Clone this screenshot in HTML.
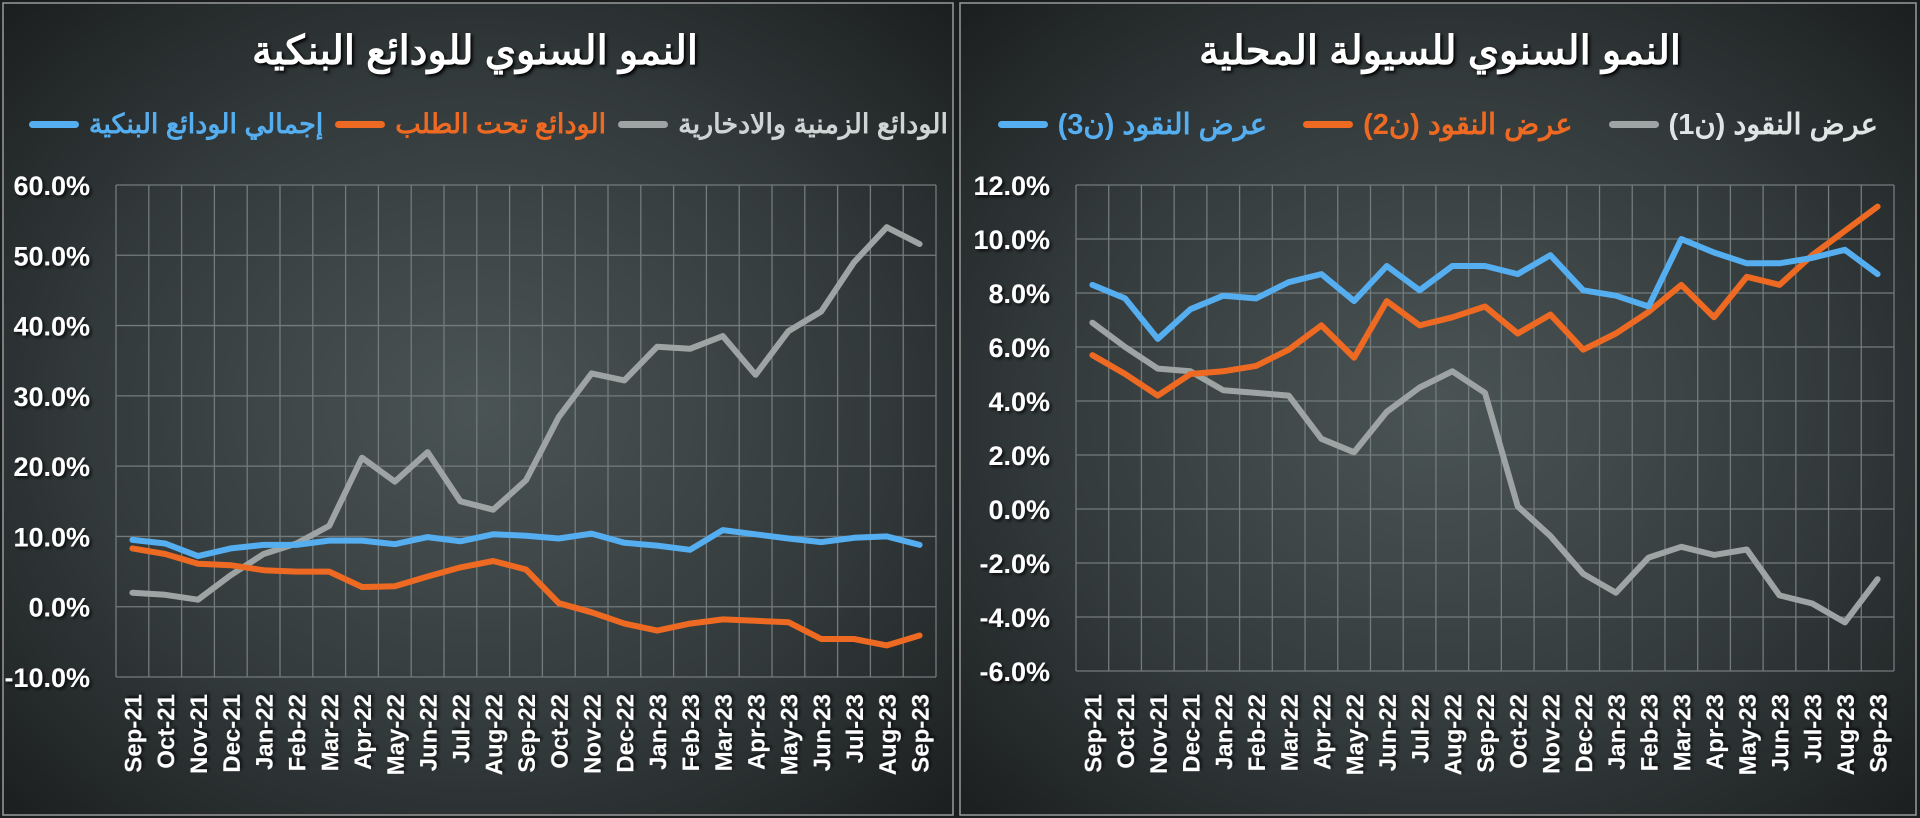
<!DOCTYPE html>
<html><head><meta charset="utf-8"><style>
html,body{margin:0;padding:0;width:1920px;height:818px;overflow:hidden;background:#1b1e1f;position:relative}
svg{display:block;position:absolute;left:0;top:0}
text{font-family:"Liberation Sans","Noto Sans CJK SC",sans-serif;font-weight:bold}
.lg{position:absolute;top:104px;height:40px;display:flex;direction:rtl;align-items:center;font-family:"Liberation Sans","Noto Sans CJK SC",sans-serif;font-weight:bold;font-size:29px;white-space:nowrap}
.it{display:flex;align-items:center;direction:rtl}
.ln{display:inline-block;width:50px;height:7px;border-radius:4px;margin-right:10px}
.tt{position:absolute;top:28px;width:700px;text-align:center;direction:rtl;color:#fff;font-family:"Liberation Sans","Noto Sans CJK SC",sans-serif;font-weight:bold;font-size:40px;text-shadow:2px 2px 3px #000}
</style></head><body>
<svg id="s" width="1920" height="818" xmlns="http://www.w3.org/2000/svg">
<defs>
<radialGradient id="g1" cx="0.5" cy="0.5" r="0.7">
<stop offset="0" stop-color="#4b5455"/><stop offset="0.6" stop-color="#32393a"/><stop offset="1" stop-color="#1c1f20"/></radialGradient>
<filter id="sh"><feDropShadow dx="2" dy="2" stdDeviation="1.5" flood-color="#000" flood-opacity="0.8"/></filter>
</defs>
<rect x="0" y="0" width="1920" height="818" fill="#1b1e1f"/>
<rect x="3" y="3" width="950" height="812" fill="url(#g1)" stroke="#9a9a9a" stroke-width="1.5"/>
<rect x="960" y="3" width="956" height="812" fill="url(#g1)" stroke="#9a9a9a" stroke-width="1.5"/>
<g id="c"></g>
</svg>
<div class="tt" style="left:125px">النمو السنوي للودائع البنكية</div>
<div class="tt" style="left:1090px">النمو السنوي للسيولة المحلية</div>
<div class="lg" style="right:972px;font-size:27px">
 <div class="it" style="color:#d0d4d4"><span>الودائع الزمنية والادخارية</span><span class="ln" style="background:#9ea4a3"></span></div>
 <div class="it" style="color:#ee6a22;margin-right:12px"><span>الودائع تحت الطلب</span><span class="ln" style="background:#ee6a22"></span></div>
 <div class="it" style="color:#55aef0;margin-right:12px"><span>إجمالي الودائع البنكية</span><span class="ln" style="background:#55aef0"></span></div>
</div>
<div class="lg" style="right:42px">
 <div class="it" style="color:#e0e4e4"><span>عرض النقود (ن1)</span><span class="ln" style="background:#9ea4a3"></span></div>
 <div class="it" style="color:#ee6a22;margin-right:36px"><span>عرض النقود (ن2)</span><span class="ln" style="background:#ee6a22"></span></div>
 <div class="it" style="color:#55aef0;margin-right:36px"><span>عرض النقود (ن3)</span><span class="ln" style="background:#55aef0"></span></div>
</div>
<script>
const NS="http://www.w3.org/2000/svg",g=document.getElementById('c');
function el(t,a,txt){const e=document.createElementNS(NS,t);for(const k in a)e.setAttribute(k,a[k]);if(txt!==undefined)e.textContent=txt;g.appendChild(e);return e;}
const months=["Sep-21","Oct-21","Nov-21","Dec-21","Jan-22","Feb-22","Mar-22","Apr-22","May-22","Jun-22","Jul-22","Aug-22","Sep-22","Oct-22","Nov-22","Dec-22","Jan-23","Feb-23","Mar-23","Apr-23","May-23","Jun-23","Jul-23","Aug-23","Sep-23"];
function chart(o){
 const {x0,x1,y0,y1,min,max,step,series}=o;
 const n=25,cw=(x1-x0)/n;
 const Y=v=>y1-(v-min)/(max-min)*(y1-y0);
 for(let i=0;i<=n;i++){const x=x0+i*cw;el('line',{x1:x,y1:y0,x2:x,y2:y1,stroke:'#737b7c','stroke-width':1.3});}
 for(let v=min;v<=max+1e-9;v+=step){const y=Y(v);el('line',{x1:x0,y1:y,x2:x1,y2:y,stroke:'#737b7c','stroke-width':1.3});
  el('text',{x:x0-26,y:y+10,'text-anchor':'end','font-size':27,fill:'#fff',filter:'url(#sh)'},v.toFixed(1)+'%');}
 months.forEach((m,i)=>{const x=x0+cw*(i+0.5)+9;el('text',{transform:`translate(${x},694) rotate(-90)`,'text-anchor':'end','font-size':24,fill:'#fff',filter:'url(#sh)'},m);});
 series.forEach(s=>{el('polyline',{points:s.d.map((v,i)=>(x0+cw*(i+0.5)).toFixed(1)+','+Y(v).toFixed(1)).join(' '),fill:'none',stroke:s.c,'stroke-width':6,'stroke-linejoin':'round','stroke-linecap':'round'});});
}
chart({x0:116,x1:936,y0:185,y1:677,min:-10,max:60,step:10,
 series:[
 {c:'#9ea4a3',d:[2,1.7,1,4.5,7.5,9,11.5,21.2,17.8,22,15,13.8,18,27,33.2,32.2,37,36.7,38.5,33,39.2,42,49,54,51.6]},
 {c:'#ee6a22',d:[8.3,7.5,6.1,5.9,5.2,5,5,2.8,2.9,4.3,5.6,6.5,5.3,0.5,-0.8,-2.4,-3.4,-2.4,-1.8,-2,-2.2,-4.6,-4.6,-5.5,-4.1]},
 {c:'#55aef0',d:[9.5,9,7.2,8.3,8.8,8.8,9.4,9.4,8.9,9.9,9.3,10.3,10.1,9.7,10.4,9.1,8.7,8.1,10.9,10.3,9.7,9.2,9.8,10,8.8]}]});
chart({x0:1076,x1:1894,y0:185,y1:671,min:-6,max:12,step:2,
 series:[
 {c:'#9ea4a3',d:[6.9,6,5.2,5.1,4.4,4.3,4.2,2.6,2.1,3.6,4.5,5.1,4.3,0.1,-1,-2.4,-3.1,-1.8,-1.4,-1.7,-1.5,-3.2,-3.5,-4.2,-2.6]},
 {c:'#ee6a22',d:[5.7,5,4.2,5,5.1,5.3,5.9,6.8,5.6,7.7,6.8,7.1,7.5,6.5,7.2,5.9,6.5,7.3,8.3,7.1,8.6,8.3,9.4,10.3,11.2]},
 {c:'#55aef0',d:[8.3,7.8,6.3,7.4,7.9,7.8,8.4,8.7,7.7,9,8.1,9,9,8.7,9.4,8.1,7.9,7.5,10,9.5,9.1,9.1,9.3,9.6,8.7]}]});
</script>
</body></html>
